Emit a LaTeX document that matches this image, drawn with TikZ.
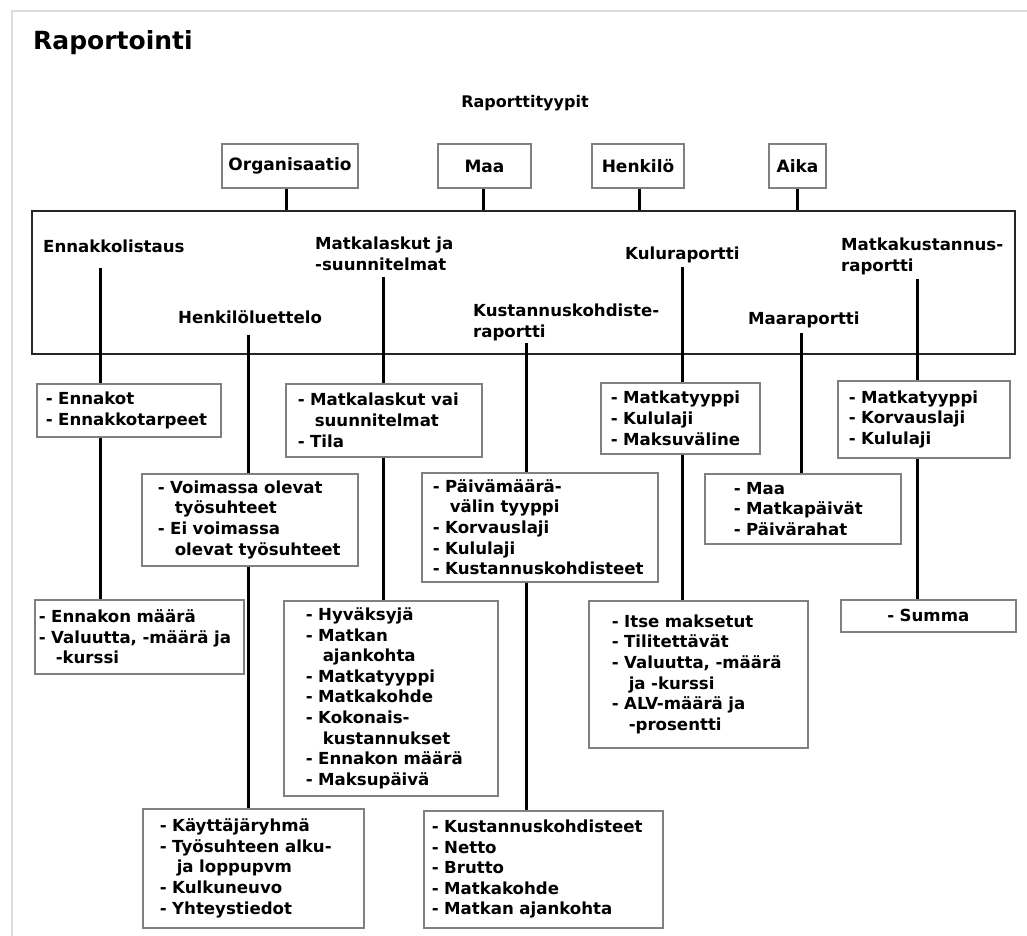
\documentclass[tikz,border=0pt]{standalone}
\usepackage{fontspec}
\setmainfont{DejaVu Sans}
\definecolor{boxgray}{HTML}{808080}
\definecolor{framegray}{HTML}{DCDCDC}
\newcommand\lstfont{\fontsize{16.6}{20.6}\selectfont\bfseries}
\newcommand\topfont{\fontsize{17}{20}\selectfont\bfseries}
\newcommand\ttlfont{\fontsize{25}{30}\selectfont\bfseries}
\newcommand\subfont{\fontsize{16}{19}\selectfont\bfseries}
\newcommand\myl[1]{\mbox{#1}}
\newcommand\myi{\hspace*{17pt}}
\begin{document}
\begin{tikzpicture}[x=1pt,y=-1pt,
  topbox/.style={draw=boxgray, line width=1.5pt, minimum height=44pt, inner sep=0pt, font=\topfont},
  bigbox/.style={draw=black!85, line width=1.5pt, inner sep=0pt},
  rname/.style={anchor=base west, inner sep=0pt, align=left, font=\lstfont},
  lst/.style={draw=boxgray, line width=1.5pt, anchor=north west, inner ysep=0pt, align=left, font=\lstfont},
  lstc/.style={draw=boxgray, line width=1.5pt, anchor=north west, inner ysep=0pt, align=center, font=\lstfont},
  conn/.style={line width=3pt, black}]
\useasboundingbox (0,0) rectangle (1027,936);
\draw[framegray, line width=1.5pt] (12,936) -- (12,11) -- (1027,11);
\node[anchor=base west, inner sep=0pt, font=\ttlfont] (title) at (33,50) {Raportointi};
\node[anchor=base, inner sep=0pt, font=\subfont] (types) at (525,108) {Raporttityypit};
% top boxes
\node[topbox, minimum width=136pt] (org) at (290,166) {Organisaatio};
\node[topbox, minimum width=93pt] (maa) at (484.5,166) {Maa};
\node[topbox, minimum width=92pt] (hen) at (638,166) {Henkilö};
\node[topbox, minimum width=57pt] (aika) at (797.5,166) {Aika};
% big frame
\node[bigbox, minimum width=983pt, minimum height=143pt] (big) at (523.5,282.5) {};
\draw[conn] ([xshift=-4pt]org.south) -- ([xshift=-4pt]org.south |- big.north);
\draw[conn] ([xshift=-1.5pt]maa.south) -- ([xshift=-1.5pt]maa.south |- big.north);
\draw[conn] ([xshift=1pt]hen.south) -- ([xshift=1pt]hen.south |- big.north);
\draw[conn] (aika.south) -- (aika.south |- big.north);
% report names (base anchor = baseline of the last line)
\node[rname] (r1) at (43,252) {Ennakkolistaus};
\node[rname] (r2) at (315,270.5) {Matkalaskut ja\\-suunnitelmat};
\node[rname] (r3) at (178,323) {Henkilöluettelo};
\node[rname] (r4) at (473,337.5) {Kustannuskohdiste-\\raportti};
\node[rname] (r5) at (625,259) {Kuluraportti};
\node[rname] (r6) at (748,324) {Maaraportti};
\node[rname] (r7) at (841,271.5) {Matkakustannus-\\raportti};
% column coordinates
\coordinate (k1) at (100,0);
\coordinate (k2) at (248,0);
\coordinate (k3) at (383,0);
\coordinate (k4) at (526,0);
\coordinate (k5) at (682,0);
\coordinate (k6) at (801,0);
\coordinate (k7) at (917,0);
% list boxes
\node[lst, minimum width=184pt, minimum height=53pt, text width=166pt, inner xsep=9pt] (ennbox) at (36,383)
  {\myl{- Ennakot}\\\myl{- Ennakkotarpeet}};
\node[lst, minimum width=196pt, minimum height=73pt, text width=172pt, inner xsep=12pt] (matbox) at (285,383)
  {\myl{- Matkalaskut vai}\\\myi\myl{suunnitelmat}\\\myl{- Tila}};
\node[lst, minimum width=159pt, minimum height=71pt, text width=139pt, inner xsep=10pt] (kulbox) at (600,382)
  {\myl{- Matkatyyppi}\\\myl{- Kululaji}\\\myl{- Maksuväline}};
\node[lst, minimum width=172pt, minimum height=77pt, text width=150pt, inner xsep=11pt] (mkbox) at (837,380)
  {\myl{- Matkatyyppi}\\\myl{- Korvauslaji}\\\myl{- Kululaji}};
\node[lst, minimum width=216pt, minimum height=92pt, text width=184pt, inner xsep=16pt] (voibox) at (141,473)
  {\myl{- Voimassa olevat}\\\myi\myl{työsuhteet}\\\myl{- Ei voimassa}\\\myi\myl{olevat työsuhteet}};
\node[lst, minimum width=236pt, minimum height=109pt, text width=214pt, inner xsep=11pt] (paibox) at (421,472)
  {\myl{- Päivämäärä-}\\\myi\myl{välin tyyppi}\\\myl{- Korvauslaji}\\\myl{- Kululaji}\\\myl{- Kustannuskohdisteet}};
\node[lst, minimum width=196pt, minimum height=70pt, text width=138pt, inner xsep=29pt] (maabox) at (704,473)
  {\myl{- Maa}\\\myl{- Matkapäivät}\\\myl{- Päivärahat}};
\node[lst, minimum width=209pt, minimum height=74pt, text width=201pt, inner xsep=4pt] (emabox) at (34,599)
  {\myl{- Ennakon määrä}\\\myl{- Valuutta, -määrä ja}\\\myi\myl{-kurssi}};
\node[lst, minimum width=214pt, minimum height=195pt, text width=170pt, inner xsep=22pt] (hyvbox) at (283,600)
  {\myl{- Hyväksyjä}\\\myl{- Matkan}\\\myi\myl{ajankohta}\\\myl{- Matkatyyppi}\\\myl{- Matkakohde}\\\myl{- Kokonais-}\\\myi\myl{kustannukset}\\\myl{- Ennakon määrä}\\\myl{- Maksupäivä}};
\node[lst, minimum width=219pt, minimum height=147pt, text width=173pt, inner xsep=23pt] (itsbox) at (588,600)
  {\myl{- Itse maksetut}\\\myl{- Tilitettävät}\\\myl{- Valuutta, -määrä}\\\myi\myl{ja -kurssi}\\\myl{- ALV-määrä ja}\\\myi\myl{-prosentti}};
\node[lstc, minimum width=175pt, minimum height=32pt, text width=155pt, inner xsep=10pt] (sumbox) at (840,599)
  {\myl{- Summa}};
\node[lst, minimum width=221pt, minimum height=119pt, text width=187pt, inner xsep=17pt] (kaybox) at (142,808)
  {\myl{- Käyttäjäryhmä}\\\myl{- Työsuhteen alku-}\\\myi\myl{ja loppupvm}\\\myl{- Kulkuneuvo}\\\myl{- Yhteystiedot}};
\node[lst, minimum width=239pt, minimum height=117pt, text width=223pt, inner xsep=8pt] (kusbox) at (423,810)
  {\myl{- Kustannuskohdisteet}\\\myl{- Netto}\\\myl{- Brutto}\\\myl{- Matkakohde}\\\myl{- Matkan ajankohta}};
% connectors
\draw[conn, shorten <=16pt] (r1.south -| k1) -- (ennbox.north -| k1);
\draw[conn] (ennbox.south -| k1) -- (emabox.north -| k1);
\draw[conn, shorten <=12pt] (r3.south -| k2) -- (voibox.north -| k2);
\draw[conn] (voibox.south -| k2) -- (kaybox.north -| k2);
\draw[conn, shorten <=6pt] (r2.south -| k3) -- (matbox.north -| k3);
\draw[conn] (matbox.south -| k3) -- (hyvbox.north -| k3);
\draw[conn, shorten <=2pt] (r4.south -| k4) -- (paibox.north -| k4);
\draw[conn] (paibox.south -| k4) -- (kusbox.north -| k4);
\draw[conn, shorten <=4pt] (r5.south -| k5) -- (kulbox.north -| k5);
\draw[conn] (kulbox.south -| k5) -- (itsbox.north -| k5);
\draw[conn, shorten <=5pt] (r6.south -| k6) -- (maabox.north -| k6);
\draw[conn, shorten <=4pt] (r7.south -| k7) -- (mkbox.north -| k7);
\draw[conn] (mkbox.south -| k7) -- (sumbox.north -| k7);
\end{tikzpicture}
\end{document}
